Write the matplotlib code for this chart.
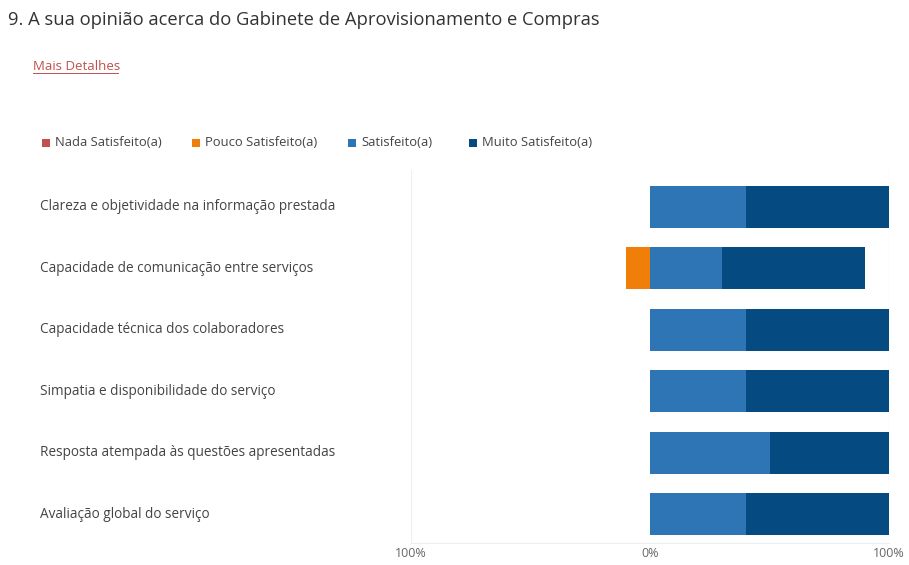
import matplotlib.pyplot as plt
from matplotlib.patches import Rectangle
from matplotlib.transforms import blended_transform_factory

plt.rcParams['font.family'] = ['Open Sans', 'DejaVu Sans']

# dados
categorias = [
    'Clareza e objetividade na informação prestada',
    'Capacidade de comunicação entre serviços',
    'Capacidade técnica dos colaboradores',
    'Simpatia e disponibilidade do serviço',
    'Resposta atempada às questões apresentadas',
    'Avaliação global do serviço',
]
series = ['Nada Satisfeito(a)', 'Pouco Satisfeito(a)', 'Satisfeito(a)', 'Muito Satisfeito(a)']
nada = [0, 0, 0, 0, 0, 0]
pouco = [0, 10, 0, 0, 0, 0]
satisfeito = [40, 30, 40, 40, 50, 40]
muito = [60, 60, 60, 60, 50, 60]
tick_vals = [-100, 0, 100]
tick_labels = ['100%', '0%', '100%']

cores = ['#c0504d', '#f07f09', '#2e75b6', '#054a80']

fig = plt.figure(figsize=(9.09, 5.65), dpi=100)
ax = fig.add_axes([411 / 909, 1 - 543 / 565, (889 - 411) / 909, (543 - 170) / 565])

y = list(range(len(categorias)))
h = 0.68

# negativos: pouco junto ao zero, nada à esquerda
ax.barh(y, [-v for v in pouco], height=h, color=cores[1], linewidth=0)
ax.barh(y, [-v for v in nada], left=[-v for v in pouco], height=h, color=cores[0], linewidth=0)
# positivos
ax.barh(y, satisfeito, height=h, color=cores[2], linewidth=0)
ax.barh(y, muito, left=satisfeito, height=h, color=cores[3], linewidth=0)

ax.set_xlim(-100, 100)
ax.set_ylim(len(categorias) - 1 + 0.47, -0.6)
ax.set_xticks(tick_vals)
ax.set_xticklabels(tick_labels, fontsize=9, color='#666666')
ax.tick_params(axis='x', length=0, pad=3)
ax.set_yticks([])
for s in ['top', 'right', 'left']:
    ax.spines[s].set_visible(False)
ax.spines['bottom'].set_color('#eeeeee')
for xv in [-100, 100]:
    ax.axvline(xv, color='#f0f0f0', linewidth=1, zorder=0)

trans = blended_transform_factory(fig.transFigure, ax.transData)
for yi, cat in zip(y, categorias):
    ax.text(40 / 909, yi, cat, transform=trans, ha='left', va='center',
            fontsize=9.8, color='#444444')

# título
fig.text(8 / 909, 1 - 20 / 565, '9. A sua opinião acerca do Gabinete de Aprovisionamento e Compras',
         fontsize=13.2, color='#333333', ha='left', va='center')
fig.text(33 / 909, 1 - 66 / 565, 'Mais Detalhes', fontsize=9.5, color='#c0504d',
         ha='left', va='center')
fig.add_artist(plt.Line2D([33 / 909, 118 / 909], [1 - 73 / 565, 1 - 73 / 565],
                          color='#c0504d', linewidth=0.7))

# legenda
leg_x = [42, 192, 348, 469]
for xi, nome, cor in zip(leg_x, series, cores):
    fig.add_artist(Rectangle((xi / 909, 1 - 147 / 565), 8 / 909, 8 / 565,
                             transform=fig.transFigure, color=cor, linewidth=0))
    fig.text((xi + 13) / 909, 1 - 143 / 565, nome, fontsize=9.4, color='#444444',
             ha='left', va='center')

fig.savefig('out.png', dpi=100)
